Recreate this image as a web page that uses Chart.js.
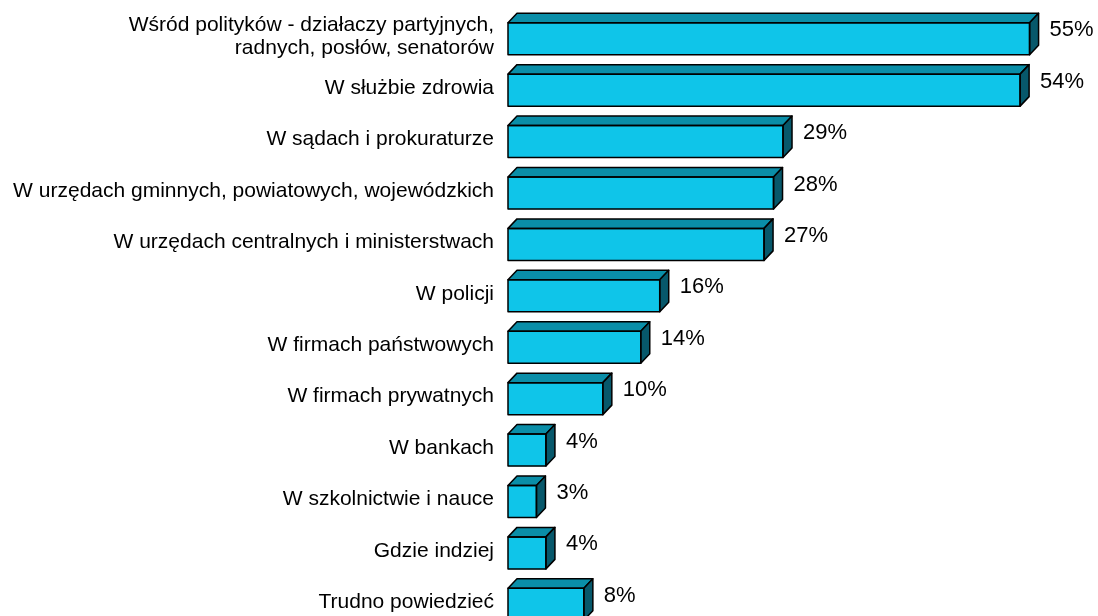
<!DOCTYPE html>
<html>
<head>
<meta charset="utf-8">
<script src="https://cdn.jsdelivr.net/npm/chart.js@4"></script>
<style>
  html, body { margin: 0; padding: 0; background: #fff; overflow: hidden; }
  #wrap { width: 1098px; height: 616px; overflow: hidden; }
</style>
</head>
<body>
<div id="wrap"><canvas id="mainChart" width="1098" height="632"></canvas></div>
<script>
const categories = [
    ['Wśród polityków - działaczy partyjnych,', 'radnych, posłów, senatorów'],
    'W służbie zdrowia',
    'W sądach i prokuraturze',
    'W urzędach gminnych, powiatowych, wojewódzkich',
    'W urzędach centralnych i ministerstwach',
    'W policji',
    'W firmach państwowych',
    'W firmach prywatnych',
    'W bankach',
    'W szkolnictwie i nauce',
    'Gdzie indziej',
    'Trudno powiedzieć'
];
const values = [55, 54, 29, 28, 27, 16, 14, 10, 4, 3, 4, 8];

const FRONT = '#0fc5e9';
const TOP = '#0a8ea8';
const SIDE = '#07586b';
const DX = 9, DY = 9.5;

// draws the top and side faces plus the value labels
const boxes = {
    id: 'boxes',
    afterDatasetsDraw(chart) {
        const ctx = chart.ctx;
        const meta = chart.getDatasetMeta(0);
        ctx.save();
        ctx.lineWidth = 1.5;
        ctx.lineJoin = 'round';
        ctx.strokeStyle = '#000';
        meta.data.forEach((bar, i) => {
            const p = bar.getProps(['x', 'y', 'base', 'height'], true);
            const top = p.y - p.height / 2, bottom = p.y + p.height / 2;
            const l = p.base, r = p.x;

            ctx.beginPath();
            ctx.moveTo(l, top);
            ctx.lineTo(l + DX, top - DY);
            ctx.lineTo(r + DX, top - DY);
            ctx.lineTo(r, top);
            ctx.closePath();
            ctx.fillStyle = TOP;
            ctx.fill();
            ctx.stroke();

            ctx.beginPath();
            ctx.moveTo(r, top);
            ctx.lineTo(r + DX, top - DY);
            ctx.lineTo(r + DX, bottom - DY);
            ctx.lineTo(r, bottom);
            ctx.closePath();
            ctx.fillStyle = SIDE;
            ctx.fill();
            ctx.stroke();

            ctx.strokeRect(l, top, r - l, bottom - top);

            ctx.fillStyle = '#000';
            ctx.font = '22px "Liberation Sans", Arial, sans-serif';
            ctx.textAlign = 'left';
            ctx.textBaseline = 'middle';
            ctx.fillText(values[i] + '%', r + DX + 11, p.y - 8.5);
        });
        ctx.restore();
    }
};

new Chart(document.getElementById('mainChart').getContext('2d'), {
    type: 'bar',
    data: {
        labels: categories,
        datasets: [{
            data: values,
            backgroundColor: FRONT,
            borderWidth: 0,
            barThickness: 32
        }]
    },
    options: {
        indexAxis: 'y',
        responsive: false,
        animation: false,
        devicePixelRatio: 1,
        layout: { padding: { left: 0, right: 21, top: 13, bottom: 2 } },
        scales: {
            x: { display: false, min: 0, max: 60 },
            y: {
                grid: { display: false },
                border: { display: false },
                afterFit(scale) {
                    scale.width = 508;
                    scale.paddingTop = 0;
                    scale.paddingBottom = 0;
                },
                ticks: {
                    color: '#000',
                    padding: 6,
                    labelOffset: -2,
                    font: { family: '"Liberation Sans", Arial, sans-serif', size: 21, lineHeight: 1.1 }
                }
            }
        },
        plugins: {
            legend: { display: false },
            tooltip: { enabled: false }
        }
    },
    plugins: [boxes]
});
</script>
</body>
</html>
